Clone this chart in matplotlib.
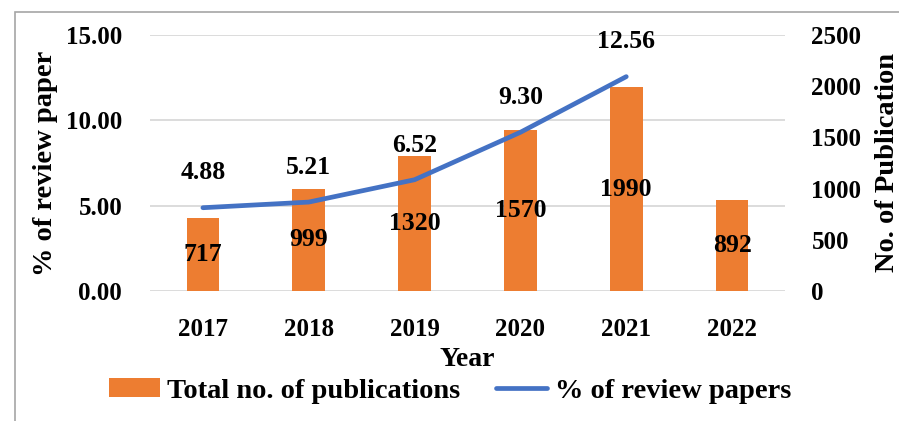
import matplotlib
matplotlib.use("Agg")
import matplotlib.pyplot as plt
from matplotlib.patches import Rectangle

years = ["2017", "2018", "2019", "2020", "2021", "2022"]
publications = [717, 999, 1320, 1570, 1990, 892]
review_years = ["2017", "2018", "2019", "2020", "2021"]
review_pct = [4.88, 5.21, 6.52, 9.30, 12.56]
left_ticks = [0, 5, 10, 15]
right_ticks = [0, 500, 1000, 1500, 2000, 2500]

plt.rcParams['font.family'] = ['Liberation Serif', 'DejaVu Serif']
plt.rcParams['font.weight'] = 'bold'
FS = 18
FSD = 18.5

fig = plt.figure(figsize=(8.99, 4.21), dpi=100)
fig.patches.append(Rectangle((15/899, -0.1), 1.2, 1 - 12/421 + 0.1, transform=fig.transFigure,
                             fill=False, edgecolor='#a6a6a6', linewidth=1.2))

ax = fig.add_axes([150/899, 1 - 291/421, 635/899, 256/421])
ax2 = ax.twinx()

L_MAX, R_MAX = 15, 2500
ax.set_ylim(0, L_MAX)
ax2.set_ylim(0, R_MAX)

# gridlines at the left-axis ticks, drawn beneath the bars
for t in left_ticks:
    ax2.axhline(t / L_MAX * R_MAX, color='#d9d9d9', linewidth=1.3, zorder=0)

xpos = list(range(len(years)))
bars = ax2.bar(xpos, publications, width=0.31, color='#ED7D31', zorder=2)
for x, v in zip(xpos, publications):
    ax2.text(x, v / 2, str(v), ha='center', va='center', fontsize=FSD, fontweight='bold', zorder=5)

xr = [years.index(y) for y in review_years]
ax.set_zorder(ax2.get_zorder() + 1)
ax.patch.set_visible(False)
line, = ax.plot(xr, review_pct, color='#4472C4', linewidth=3.4, solid_capstyle='round',
                solid_joinstyle='round', zorder=3)
for x, v in zip(xr, review_pct):
    ax.annotate(f"{v:.2f}", (x, v), xytext=(0, 25), textcoords='offset points',
                ha='center', va='center', fontsize=FSD, fontweight='bold')

ax.set_xlim(-0.5, len(years) - 0.5)
ax.set_yticks(left_ticks)
ax.set_yticklabels([f"{t:.2f}" for t in left_ticks], fontsize=FS, fontweight='bold')
ax2.set_yticks(right_ticks)
ax2.set_yticklabels([str(t) for t in right_ticks], fontsize=FS, fontweight='bold')
ax.set_xticks(xpos)
ax.set_xticklabels(years, fontsize=FS, fontweight='bold')
ax.tick_params(axis='y', length=0, pad=20)
ax2.tick_params(axis='y', length=0, pad=19)
ax.tick_params(axis='x', length=0, pad=19.5)
ax2.tick_params(axis='x', length=0)

for a in (ax, ax2):
    for s in a.spines.values():
        s.set_visible(False)

ax.set_ylabel("% of review paper", fontsize=20.5, fontweight='bold', labelpad=6)
ax2.set_ylabel("No. of Publication", fontsize=20.5, fontweight='bold', labelpad=10)
ax.set_xlabel("Year", fontsize=20, fontweight='bold', labelpad=4)

fig.legend([bars, line], ['Total no. of publications', '% of review papers'],
           loc='center', bbox_to_anchor=(450/899, 1 - 391/421), ncol=2, frameon=False,
           prop={'size': 20.5, 'weight': 'bold'}, handlelength=1.8, handleheight=0.62,
           handletextpad=0.25, columnspacing=1.25, borderpad=0)

fig.savefig("out.png", dpi=100)
